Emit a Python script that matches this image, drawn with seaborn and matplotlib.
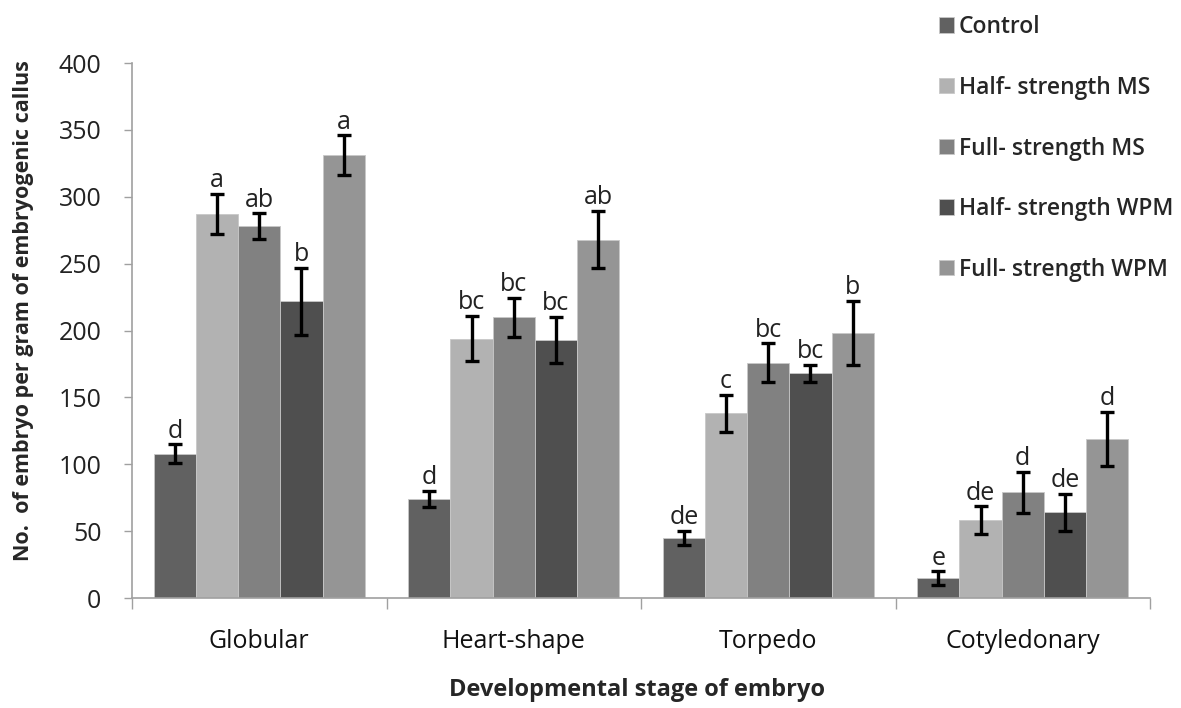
import matplotlib
matplotlib.use("Agg")
import matplotlib.pyplot as plt
import seaborn as sns
import pandas as pd
import numpy as np

stages = ["Globular", "Heart-shape", "Torpedo", "Cotyledonary"]
treatments = ["Control", "Half- strength MS", "Full- strength MS",
              "Half- strength WPM", "Full- strength WPM"]
control = [108, 74, 45, 15]
half_ms = [287, 194, 138, 58]
full_ms = [278, 210, 176, 79]
half_wpm = [222, 193, 168, 64]
full_wpm = [331, 268, 198, 119]
control_err = [7, 6, 5, 5]
half_ms_err = [15, 17, 14, 10.5]
full_ms_err = [9.5, 14.5, 14.5, 15.5]
half_wpm_err = [25, 17, 6.5, 14]
full_wpm_err = [15, 21.5, 24, 20]
control_lbl = ["d", "d", "de", "e"]
half_ms_lbl = ["a", "bc", "c", "de"]
full_ms_lbl = ["ab", "bc", "bc", "d"]
half_wpm_lbl = ["b", "bc", "bc", "de"]
full_wpm_lbl = ["a", "ab", "b", "d"]

colors = ["#616161", "#b2b2b2", "#818181", "#4f4f4f", "#959595"]

series = [control, half_ms, full_ms, half_wpm, full_wpm]
errs = [control_err, half_ms_err, full_ms_err, half_wpm_err, full_wpm_err]
lbls = [control_lbl, half_ms_lbl, full_ms_lbl, half_wpm_lbl, full_wpm_lbl]

rows = []
for t, vals in zip(treatments, series):
    for s, v in zip(stages, vals):
        rows.append(dict(stage=s, treatment=t, value=v))
df = pd.DataFrame(rows)

sns.set_style("white")
plt.rcParams['font.family'] = ['Open Sans', 'DejaVu Sans']

W, H = 1181, 708
fig = plt.figure(figsize=(W / 100, H / 100), dpi=100)
ax = fig.add_axes([132 / W, 1 - 598 / H, (1150 - 132) / W, (598 - 63) / H])

sns.barplot(data=df, x="stage", y="value", hue="treatment", order=stages,
            hue_order=treatments, palette=colors, width=0.83, gap=0,
            errorbar=None, ax=ax, saturation=1, edgecolor="#c8c8c8", linewidth=0.6)

for ti, t in enumerate(treatments):
    for si, s in enumerate(stages):
        p = ax.containers[ti][si]
        cx = p.get_x() + p.get_width() / 2
        h = p.get_height()
        e = errs[ti][si]
        ax.errorbar(cx, h, yerr=e, fmt="none", ecolor="black", elinewidth=2.4,
                    capsize=5, capthick=2.4, zorder=5)
        ax.text(cx, h + e + 0.5, lbls[ti][si], ha="center", va="bottom",
                fontsize=18, color="#222222", zorder=6)

ax.set_ylim(0, 400)
ax.set_xlim(-0.5, 3.5)
ax.set_yticks(np.arange(0, 401, 50))
ax.tick_params(axis="y", which="major", length=6, width=1, color="#a0a0a0",
               labelsize=18, left=True, pad=16, labelcolor="#222222")
ax.tick_params(axis="x", which="major", length=0, labelsize=18, pad=22,
               labelcolor="#111111")
ax.set_xticks([-0.5, 0.5, 1.5, 2.5, 3.5], minor=True)
ax.tick_params(axis="x", which="minor", length=8, width=1, color="#a0a0a0", bottom=True)
for side in ["top", "right"]:
    ax.spines[side].set_visible(False)
for side in ["left", "bottom"]:
    ax.spines[side].set_color("#a0a0a0")
    ax.spines[side].set_linewidth(1.2)

ax.set_xlabel("Developmental stage of embryo", fontsize=17, fontweight="bold")
ax.xaxis.set_label_coords(0.496, -(678 - 598) / 535)
ax.set_ylabel("No.  of embryo per gram of embryogenic callus", fontsize=15.5,
              fontweight="bold")
ax.yaxis.set_label_coords((34 - 132) / 1018, (598 - 311) / 535)

leg = ax.legend(loc="upper left", bbox_to_anchor=(930 / W, 1 - 6 / H),
                bbox_transform=fig.transFigure, frameon=False, fontsize=16.5,
                handlelength=0.65, handleheight=0.65, handletextpad=0.22,
                labelspacing=1.6, borderaxespad=0)
for txt in leg.get_texts():
    txt.set_fontweight("semibold")

fig.savefig("out.png", dpi=100)
